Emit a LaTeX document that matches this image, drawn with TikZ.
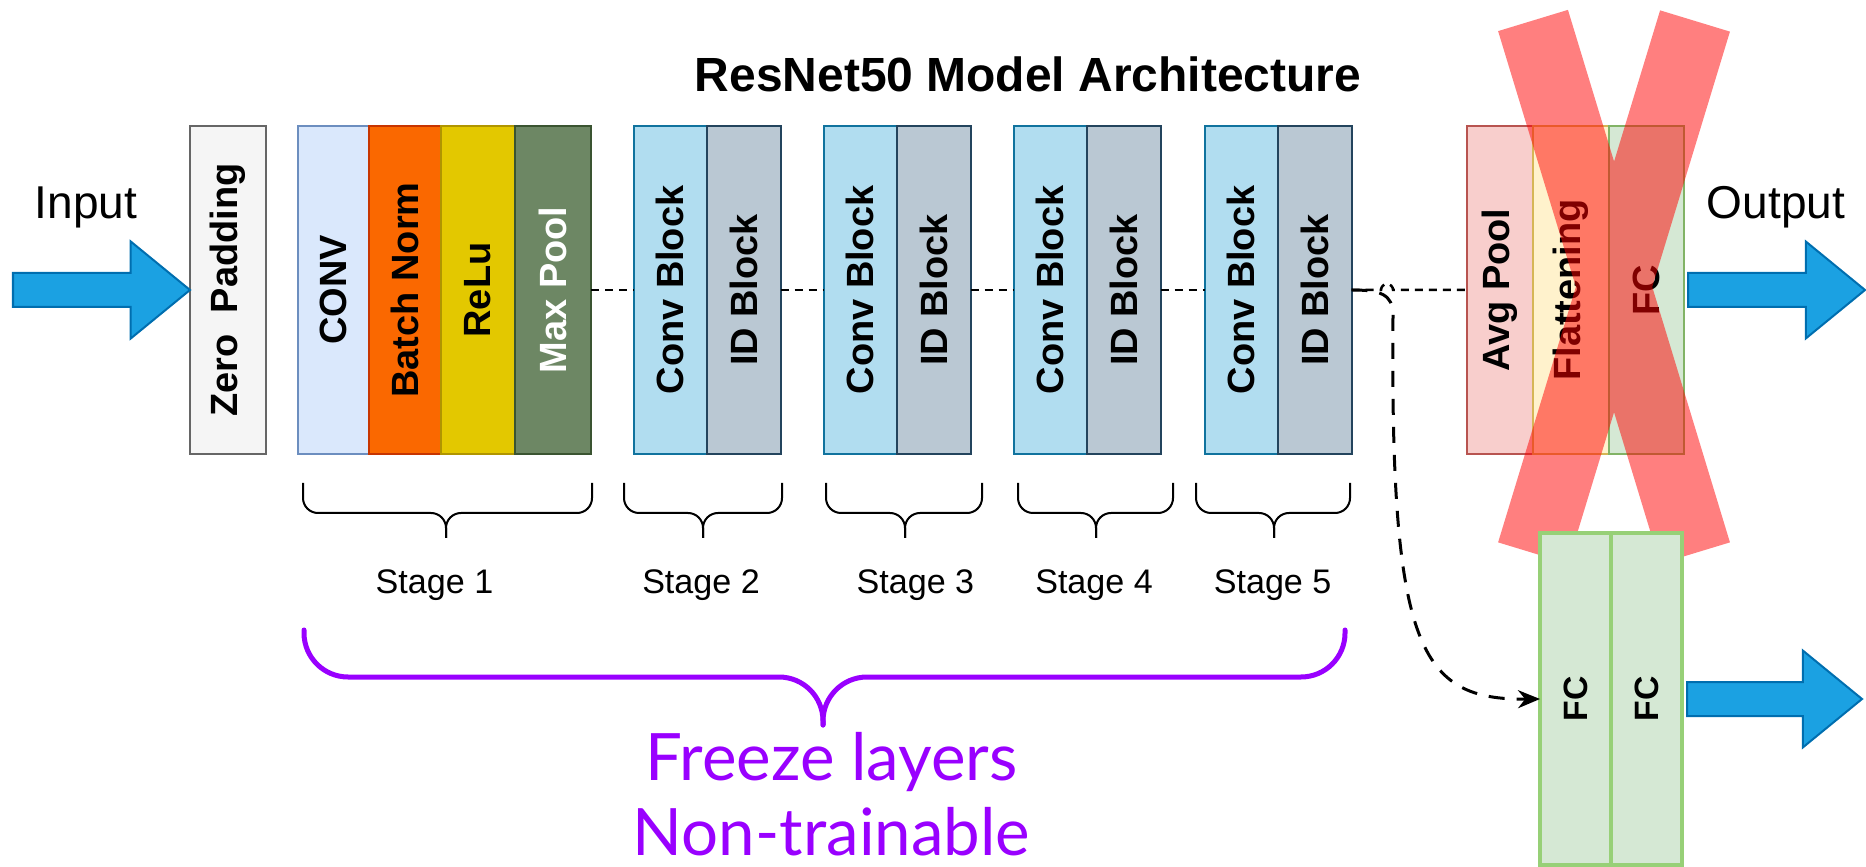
\documentclass[tikz,border=0pt]{standalone}
\usepackage{fontspec}
\setmainfont{Liberation Sans}
\newfontfamily\freezefont{Lato}
\usetikzlibrary{calc, positioning, shapes.arrows, arrows.meta}

\definecolor{zpfill}{HTML}{F5F5F5}
\definecolor{zpline}{HTML}{666666}
\definecolor{convfill}{HTML}{DAE8FC}
\definecolor{convline}{HTML}{6C8EBF}
\definecolor{bnfill}{HTML}{FA6800}
\definecolor{bnline}{HTML}{C73500}
\definecolor{relufill}{HTML}{E3C800}
\definecolor{reluline}{HTML}{B09500}
\definecolor{mpfill}{HTML}{6D8764}
\definecolor{mpline}{HTML}{3A5431}
\definecolor{cbfill}{HTML}{B1DDF0}
\definecolor{cbline}{HTML}{10739E}
\definecolor{idfill}{HTML}{BAC8D3}
\definecolor{idline}{HTML}{23445D}
\definecolor{avgfill}{HTML}{F8CECC}
\definecolor{avgline}{HTML}{B85450}
\definecolor{flatfill}{HTML}{FFF2CC}
\definecolor{flatline}{HTML}{D6B656}
\definecolor{fcfill}{HTML}{D5E8D4}
\definecolor{fcline}{HTML}{82B366}
\definecolor{newfcline}{HTML}{97D077}
\definecolor{arrowblue}{HTML}{1BA1E2}
\definecolor{arrowedge}{HTML}{006EAF}
\definecolor{freezepurple}{HTML}{9900FF}

\begin{document}
\begin{tikzpicture}[
    layer/.style={draw, line width=0.02cm, minimum height=3.28cm, inner sep=0pt, outer sep=0pt,
      font=\bfseries\fontsize{10.8pt}{13pt}\selectfont},
    bigarrow/.style={single arrow, fill=arrowblue, draw=arrowedge, line width=0.02cm,
      minimum height=1.77cm, text height=0.32cm, text depth=0cm, single arrow head extend=0.315cm,
      single arrow tip angle=78.6, single arrow head indent=0pt, inner sep=0pt, outer sep=0pt},
    brace/.style={line width=0.02cm, rounded corners=0.15cm},
    flow/.style={dash pattern=on 0.08cm off 0.06cm, line width=0.025cm},
    jump/.style={dash pattern=on 0.16cm off 0.12cm, line width=0.03cm,
      -{Stealth[length=0.22cm, width=0.18cm]}},
    stagelabel/.style={anchor=base, font=\fontsize{9.7pt}{12pt}\selectfont}
  ]
    \useasboundingbox (0,0) rectangle (18.66,-8.67);

    \node[anchor=base, font=\bfseries\fontsize{13.65pt}{16pt}\selectfont] (title) at (10.28,-0.92) {ResNet50 Model Architecture};

    % input
    \node[layer, minimum width=0.76cm, fill=zpfill, draw=zpline] (zp) at (2.28,-2.90) {\rotatebox{90}{Zero\ \ Padding}};
    \node[bigarrow, anchor=tip] (inarrow) at (zp.west) {};
    \node[anchor=base, font=\fontsize{13.1pt}{16pt}\selectfont] (input) at (0.86,-2.19) {Input};

    % stage 1
    \node[layer, anchor=west, minimum width=0.715cm, fill=convfill, draw=convline] (conv) at (2.975,-2.90) {\rotatebox{90}{CONV}};
    \node[layer, right=0pt of conv, minimum width=0.72cm, fill=bnfill, draw=bnline] (bn) {\rotatebox{90}{Batch Norm}};
    \node[layer, right=0pt of bn, minimum width=0.74cm, fill=relufill, draw=reluline] (relu) {\rotatebox{90}{ReLu}};
    \node[layer, right=0pt of relu, minimum width=0.76cm, fill=mpfill, draw=mpline, text=white] (mp) {\rotatebox{90}{Max Pool}};

    % stages 2 to 5
    \node[layer, anchor=west, minimum width=0.725cm, fill=cbfill, draw=cbline] (cb2) at (6.34,-2.90) {\rotatebox{90}{Conv Block}};
    \node[layer, right=0pt of cb2, minimum width=0.74cm, fill=idfill, draw=idline] (id2) {\rotatebox{90}{ID Block}};
    \node[layer, anchor=west, minimum width=0.725cm, fill=cbfill, draw=cbline] (cb3) at (8.24,-2.90) {\rotatebox{90}{Conv Block}};
    \node[layer, right=0pt of cb3, minimum width=0.74cm, fill=idfill, draw=idline] (id3) {\rotatebox{90}{ID Block}};
    \node[layer, anchor=west, minimum width=0.725cm, fill=cbfill, draw=cbline] (cb4) at (10.14,-2.90) {\rotatebox{90}{Conv Block}};
    \node[layer, right=0pt of cb4, minimum width=0.74cm, fill=idfill, draw=idline] (id4) {\rotatebox{90}{ID Block}};
    \node[layer, anchor=west, minimum width=0.725cm, fill=cbfill, draw=cbline] (cb5) at (12.05,-2.90) {\rotatebox{90}{Conv Block}};
    \node[layer, right=0pt of cb5, minimum width=0.74cm, fill=idfill, draw=idline] (id5) {\rotatebox{90}{ID Block}};

    % head
    \node[layer, anchor=west, minimum width=0.66cm, fill=avgfill, draw=avgline] (avg) at (14.67,-2.90) {\rotatebox{90}{Avg Pool}};
    \node[layer, right=0pt of avg, minimum width=0.76cm, fill=flatfill, draw=flatline] (flat) {\rotatebox{90}{Flattening}};
    \node[layer, right=0pt of flat, minimum width=0.75cm, fill=fcfill, draw=fcline] (fc) {\rotatebox{90}{FC}};
    \node[bigarrow, anchor=tail] (outarrow) at ($ (fc.east) + (0.04,0) $) {};
    \node[anchor=base, font=\fontsize{13.1pt}{16pt}\selectfont] (output) at (17.76,-2.19) {Output};

    \draw[flow] (mp.east) -- (cb2.west);
    \draw[flow] (id2.east) -- (cb3.west);
    \draw[flow] (id3.east) -- (cb4.west);
    \draw[flow] (id4.east) -- (cb5.west);
    \draw[flow] (id5.east) -- (13.81,-2.90) arc[start angle=180, end angle=0, radius=0.06] -- (avg.west);

    % stage braces
    \draw[brace] (3.03,-4.83) -- (3.03,-5.13) -- (4.46,-5.13) -- (4.46,-5.38);
    \draw[brace] (5.92,-4.83) -- (5.92,-5.13) -- (4.46,-5.13) -- (4.46,-5.38);
    \draw[brace] (6.24,-4.83) -- (6.24,-5.13) -- (7.03,-5.13) -- (7.03,-5.38);
    \draw[brace] (7.82,-4.83) -- (7.82,-5.13) -- (7.03,-5.13) -- (7.03,-5.38);
    \draw[brace] (8.26,-4.83) -- (8.26,-5.13) -- (9.05,-5.13) -- (9.05,-5.38);
    \draw[brace] (9.82,-4.83) -- (9.82,-5.13) -- (9.05,-5.13) -- (9.05,-5.38);
    \draw[brace] (10.18,-4.83) -- (10.18,-5.13) -- (10.96,-5.13) -- (10.96,-5.38);
    \draw[brace] (11.73,-4.83) -- (11.73,-5.13) -- (10.96,-5.13) -- (10.96,-5.38);
    \draw[brace] (11.96,-4.83) -- (11.96,-5.13) -- (12.74,-5.13) -- (12.74,-5.38);
    \draw[brace] (13.50,-4.83) -- (13.50,-5.13) -- (12.74,-5.13) -- (12.74,-5.38);

    \node[stagelabel] (s1) at (4.345,-5.94) {Stage 1};
    \node[stagelabel] (s2) at (7.01,-5.94) {Stage 2};
    \node[stagelabel] (s3) at (9.154,-5.94) {Stage 3};
    \node[stagelabel] (s4) at (10.94,-5.94) {Stage 4};
    \node[stagelabel] (s5) at (12.726,-5.94) {Stage 5};

    % freeze brace
    \draw[freezepurple, line width=0.05cm, line cap=round, rounded corners=0.44cm]
      (3.04,-6.30) -- (3.04,-6.77) -- (8.23,-6.77) -- (8.23,-7.25);
    \draw[freezepurple, line width=0.05cm, line cap=round, rounded corners=0.44cm]
      (13.45,-6.30) -- (13.45,-6.77) -- (8.23,-6.77) -- (8.23,-7.25);
    \node[anchor=base, text=freezepurple, text depth=0pt, font=\freezefont\fontsize{18.6pt}{22pt}\selectfont] (freeze) at (8.315,-7.80) {Freeze layers};
    \node[anchor=base, text=freezepurple, text depth=0pt, font=\freezefont\fontsize{18.6pt}{22pt}\selectfont] (nontrain) at (8.315,-8.55) {Non-trainable};

    % removed head
    \draw[red, opacity=0.5, line width=0.73cm] (15.33,-0.205) -- (16.95,-5.53) (16.95,-0.21) -- (15.33,-5.53);

    % new head
    \node[layer, anchor=west, minimum width=0.71cm, minimum height=3.32cm, line width=0.04cm, fill=fcfill, draw=newfcline,
      font=\bfseries\fontsize{9.6pt}{12pt}\selectfont] (fca) at (15.40,-6.99) {\rotatebox{90}{FC}};
    \node[layer, right=0pt of fca, minimum width=0.71cm, minimum height=3.32cm, line width=0.04cm, fill=fcfill, draw=newfcline,
      font=\bfseries\fontsize{9.6pt}{12pt}\selectfont] (fcb) {\rotatebox{90}{FC}};
    \node[bigarrow, anchor=tail, minimum height=1.75cm] (newarrow) at ($ (fcb.east) + (0.05,0) $) {};

    \draw[jump] (id5.east) .. controls (13.80,-2.90) and (13.93,-2.94) .. (13.93,-3.15)
      .. controls (13.90,-6.50) and (14.20,-7.00) .. (fca.west);

  \end{tikzpicture}
\end{document}
